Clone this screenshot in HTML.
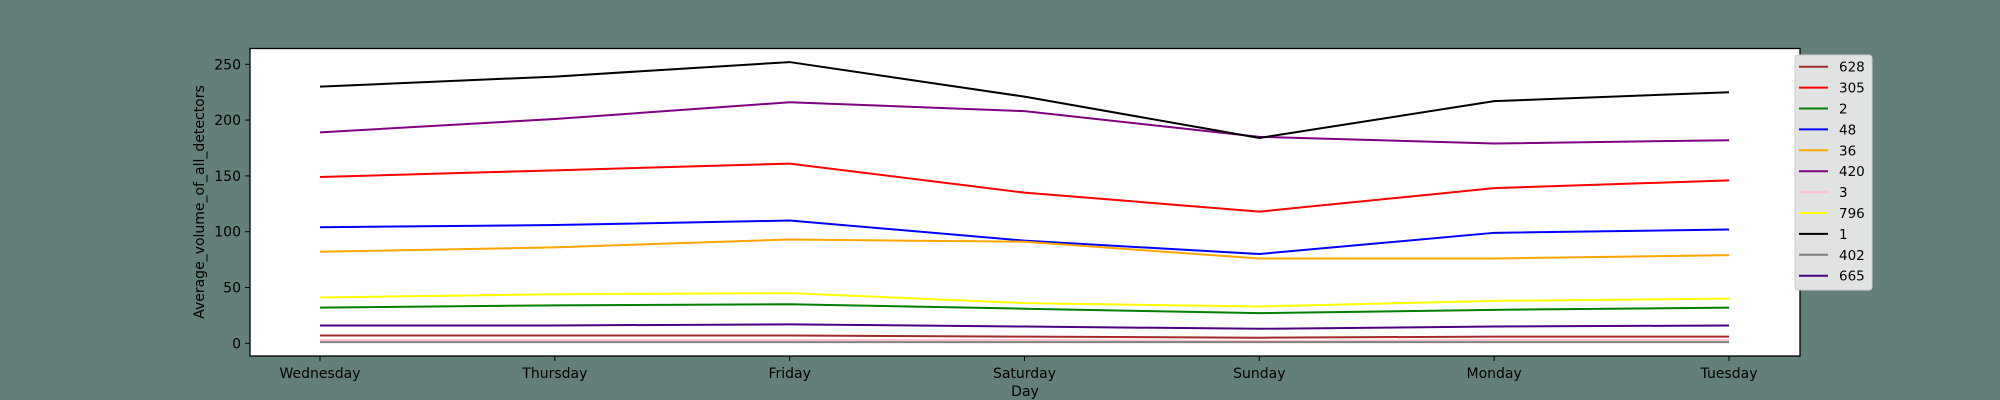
<!DOCTYPE html>
<html><head><meta charset="utf-8"><style>
html,body{margin:0;padding:0;background:#627f79;}
svg{display:block;font-family:"DejaVu Sans","Liberation Sans",sans-serif;}
</style></head><body>
<svg id="chart" width="2000" height="400" viewBox="0 0 2000 400">
<rect x="0" y="0" width="2000" height="400" fill="#627f79"/>
<rect x="250" y="48.5" width="1550" height="307.5" fill="#ffffff"/>
<g id="lines"></g>
<rect x="250" y="48.5" width="1550" height="307.5" fill="none" stroke="#000" stroke-width="1.3"/>
<g id="xaxis"></g><g id="yaxis"></g>
<text x="1025" y="396" font-size="14" text-anchor="middle">Day</text>
<text transform="translate(204,202) rotate(-90)" font-size="14" text-anchor="middle">Average_volume_of_all_detectors</text>
<g id="legend">
<rect x="1795" y="55" width="77" height="235" rx="3" fill="#e0e3e2" stroke="#cccccc" stroke-width="1"/>
</g>
</svg>
<script>
const days = ["Wednesday","Thursday","Friday","Saturday","Sunday","Monday","Tuesday"];
const yTicks = [0,50,100,150,200,250];
const seriesNames = ["628","305","2","48","36","420","3","796","1","402","665"];
const seriesColors = ["#a52a2a","#ff0000","#008000","#0000ff","#ffa500","#800080","#ffc0cb","#ffff00","#000000","#808080","#4b0082"];
const s628 = [7,7,7,6,5,6,6];
const s305 = [149,155,161,135,118,139,146];
const s2 = [32,34,35,31,27,30,32];
const s48 = [104,106,110,92,80,99,102];
const s36 = [82,86,93,91,76,76,79];
const s420 = [189,201,216,208,185,179,182];
const s3 = [3,3,3,3,2,3,3];
const s796 = [41,44,45,36,33,38,40];
const s1 = [230,239,252,221,184,217,225];
const s402 = [1,1,1,1,1,1,1];
const s665 = [16,16,17,15,13,15,16];
const seriesValues = [s628,s305,s2,s48,s36,s420,s3,s796,s1,s402,s665];

const NS = "http://www.w3.org/2000/svg";
function xPos(i){ return 320 + i*(1729-320)/(days.length-1); }
function yPos(v){ return 343.3 - v*(343.3-64.3)/250; }

const xg = document.getElementById('xaxis');
days.forEach((d,i)=>{
  const t = document.createElementNS(NS,'line');
  t.setAttribute('x1',xPos(i)); t.setAttribute('x2',xPos(i));
  t.setAttribute('y1',356); t.setAttribute('y2',361);
  t.setAttribute('stroke','#000');
  
  
  xg.appendChild(t);
  const l = document.createElementNS(NS,'text');
  l.setAttribute('x',xPos(i)); l.setAttribute('y',378);
  l.setAttribute('font-size','14'); l.setAttribute('text-anchor','middle');
  l.textContent = d;
  
  
  xg.appendChild(l);
});
const yg = document.getElementById('yaxis');
yTicks.forEach(v=>{
  const t = document.createElementNS(NS,'line');
  t.setAttribute('x1',245); t.setAttribute('x2',250);
  t.setAttribute('y1',yPos(v)); t.setAttribute('y2',yPos(v));
  t.setAttribute('stroke','#000');
  
  
  yg.appendChild(t);
  const l = document.createElementNS(NS,'text');
  l.setAttribute('x',241); l.setAttribute('y',yPos(v)+5);
  l.setAttribute('font-size','14'); l.setAttribute('text-anchor','end');
  l.textContent = v;
  
  
  yg.appendChild(l);
});
const lg = document.getElementById('lines');
seriesValues.forEach((vals,k)=>{
  const p = document.createElementNS(NS,'polyline');
  p.setAttribute('points', vals.map((v,i)=>xPos(i)+','+yPos(v)).join(' '));
  p.setAttribute('fill','none');
  p.setAttribute('stroke',seriesColors[k]);
  p.setAttribute('stroke-width','2');
  
  
  lg.appendChild(p);
});
const leg = document.getElementById('legend');
seriesNames.forEach((n,k)=>{
  const y = 66.7 + k*20.9;
  const ln = document.createElementNS(NS,'line');
  ln.setAttribute('x1',1799); ln.setAttribute('x2',1828);
  ln.setAttribute('y1',y); ln.setAttribute('y2',y);
  ln.setAttribute('stroke',seriesColors[k]); ln.setAttribute('stroke-width','2');
  
  
  leg.appendChild(ln);
  const t = document.createElementNS(NS,'text');
  t.setAttribute('x',1839); t.setAttribute('y',y+5);
  t.setAttribute('font-size','13.5');
  t.textContent = n;
  
  
  leg.appendChild(t);
});
</script>
</body></html>
